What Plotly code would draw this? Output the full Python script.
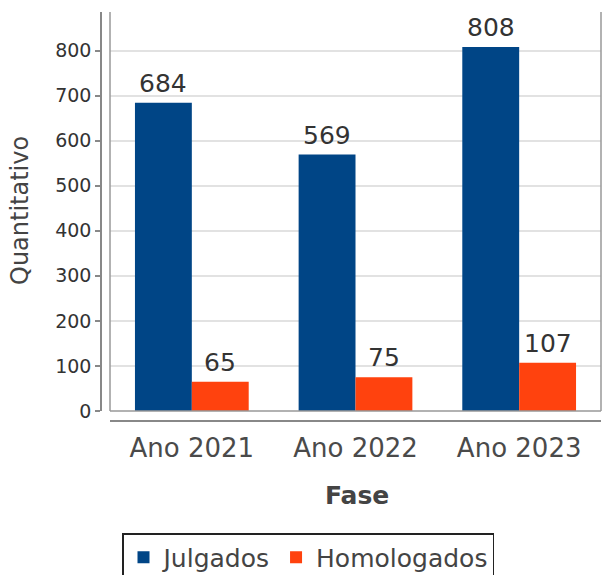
import plotly.graph_objects as go

categories = ["Ano 2021", "Ano 2022", "Ano 2023"]
julgados = [684, 569, 808]
homologados = [65, 75, 107]
series_names = ["Julgados", "Homologados"]
y_ticks = [0, 100, 200, 300, 400, 500, 600, 700, 800]
x_title = "Fase"
y_title = "Quantitativo"

FONT = "DejaVu Sans"
BLUE = "#004586"
ORANGE = "#FF420E"
BARGAP = 0.305

W, H = 603, 575
ml, mr, mt, mb = 101, 2, 12, 154
pw = W - ml - mr
ph = H - mt - mb
plot_w = pw - 9

fig = go.Figure()
fig.add_trace(go.Bar(name=series_names[0], x=categories, y=julgados,
                     marker_color=BLUE, marker_line_width=0))
fig.add_trace(go.Bar(name=series_names[1], x=categories, y=homologados,
                     marker_color=ORANGE, marker_line_width=0))

# value labels above bars
bar_px = plot_w / len(categories) * (1 - BARGAP) / 2
for k, vals in enumerate([julgados, homologados]):
    for c, v in zip(categories, vals):
        fig.add_annotation(x=c, y=v, xref="x", yref="y", text=str(v),
                           showarrow=False, yanchor="bottom",
                           xshift=(k - 0.5) * bar_px, yshift=3,
                           font=dict(size=25, color="#333", family=FONT))

# axis titles
fig.add_annotation(text=y_title, xref="paper", yref="paper",
                   x=(20 - ml) / pw, y=((mt + ph) - 211) / ph,
                   xanchor="center", yanchor="middle", textangle=-90, showarrow=False,
                   font=dict(size=24, color="#444", family=FONT))
fig.add_annotation(text="<b>" + x_title + "</b>", xref="paper", yref="paper",
                   x=(357 - ml) / pw, y=((mt + ph) - 496) / ph,
                   xanchor="center", yanchor="middle", showarrow=False,
                   font=dict(size=25, color="#444", family=FONT))

fig.update_layout(
    width=W, height=H,
    margin=dict(l=ml, r=mr, t=mt, b=mb, autoexpand=False),
    paper_bgcolor="white", plot_bgcolor="white",
    barmode="group", bargap=BARGAP, bargroupgap=0,
    font=dict(family=FONT, color="#444"),
    showlegend=True,
    legend=dict(
        orientation="h", x=(122 - ml) / pw, y=((mt + ph) - 533) / ph,
        xanchor="left", yanchor="top",
        bordercolor="#222", borderwidth=1.5,
        font=dict(size=25, color="#444", family=FONT),
        itemwidth=30, tracegroupgap=0,
    ),
    xaxis=dict(
        domain=[9 / pw, 1], anchor="free", position=0, automargin=False,
        showline=True, linecolor="#888", linewidth=2,
        ticks="", tickfont=dict(size=26, color="#4a4a4a", family=FONT),
        ticklabelstandoff=4,
        showgrid=False, zeroline=False,
    ),
    yaxis=dict(
        domain=[10 / ph, 1], anchor="free", position=0, automargin=False,
        range=[0, 885.5], tickvals=y_ticks,
        showline=True, linecolor="#888", linewidth=1.5,
        ticks="outside", ticklen=5, tickcolor="#888", tickwidth=1.5,
        tickfont=dict(size=19, color="#333", family=FONT),
        showgrid=True, gridcolor="#e2e2e2", gridwidth=1.5, zeroline=False,
    ),
)

# plot-area outline (left, bottom, right)
for x0, y0, x1, y1 in [(0, 0, 0, 1), (0, 0, 1, 0), (1, 0, 1, 1)]:
    fig.add_shape(type="line", xref="x domain", yref="y domain",
                  x0=x0, y0=y0, x1=x1, y1=y1, line=dict(color="#999", width=1.5))

fig.write_html("out.html", config={"displayModeBar": False},
               post_script="document.body.style.margin='0';")
